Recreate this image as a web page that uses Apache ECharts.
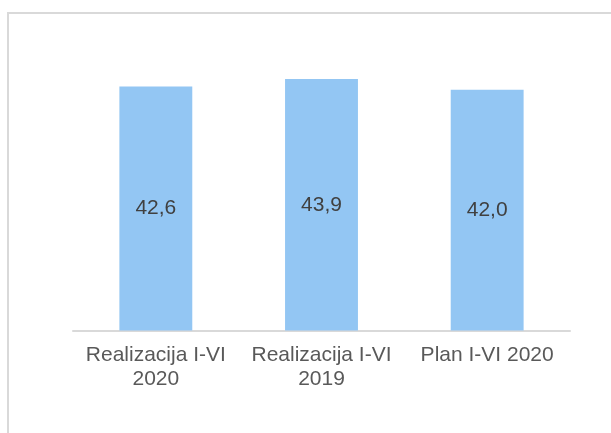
<!DOCTYPE html>
<html>
<head>
<meta charset="utf-8">
<script src="https://cdn.jsdelivr.net/npm/echarts@6/dist/echarts.min.js"></script>
<style>
  html, body { margin: 0; padding: 0; background: #fff; }
  #chart { width: 611px; height: 433px; }
</style>
</head>
<body>
<div id="chart"></div>
<script>
// 类别和数值
const categories = ["Realizacija I-VI\n2020", "Realizacija I-VI\n2019", "Plan I-VI 2020"];
const values = [42.6, 43.9, 42.0];

const chart = echarts.init(document.getElementById("chart"));

const option = {
	animation: false,
	backgroundColor: "#fff",
	// 外框
	graphic: [
		{
			type: "rect",
			shape: { x: 8, y: 13, width: 700, height: 500 },
			style: { fill: "none", stroke: "#d9d9d9", lineWidth: 2 },
			silent: true,
		},
	],
	grid: {
		left: 73,
		right: 41,
		top: 44,
		bottom: 102.5,
	},
	xAxis: {
		type: "category",
		data: categories,
		axisLine: { lineStyle: { color: "#d9d9d9", width: 2 } },
		axisTick: { show: false },
		axisLabel: {
			color: "#595959",
			fontSize: 21,
			lineHeight: 24,
			margin: 13,
			fontFamily: "Liberation Sans, Arial, sans-serif",
			interval: 0,
		},
	},
	yAxis: {
		type: "value",
		min: 0,
		max: 50,
		show: false,
		splitLine: { show: false },
	},
	series: [
		{
			type: "bar",
			data: values,
			barWidth: "44%",
			itemStyle: { color: "#93c6f3" },
			// 柱内数值
			label: {
				show: true,
				position: "inside",
				color: "#404040",
				fontSize: 21,
				fontFamily: "Liberation Sans, Arial, sans-serif",
				formatter: (p) => p.value.toFixed(1).replace(".", ","),
			},
		},
	],
};

chart.setOption(option);
</script>
</body>
</html>
